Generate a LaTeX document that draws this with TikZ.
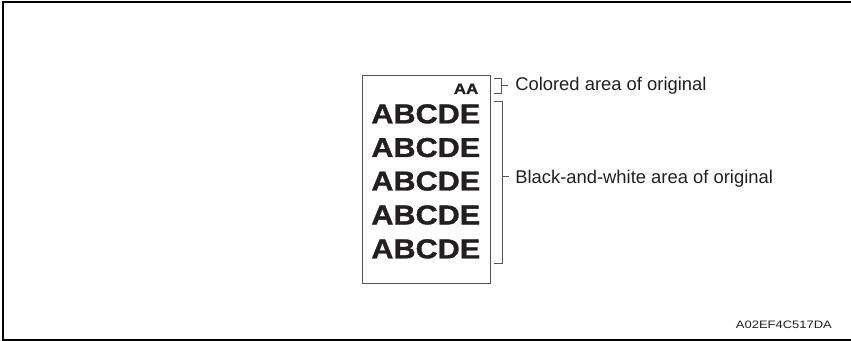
\documentclass[tikz,border=0pt]{standalone}
\usepackage{fontspec}
\setmainfont{Liberation Sans}
\newfontfamily\widebold[FakeStretch=1.12,FakeBold=1.2]{Liberation Sans Bold}
\newfontfamily\widereg[FakeStretch=1.2]{Liberation Sans}
\definecolor{ink}{HTML}{231F20}
\definecolor{rule}{HTML}{555555}
\begin{document}
\begin{tikzpicture}[x=0.75pt,y=-0.75pt,
  frame/.style={line width=1.4pt,black},
  thin/.style={line width=0.8pt,rule},
  bigtxt/.style={inner sep=0pt,anchor=base east,text=ink,font=\widebold\fontsize{20.5pt}{20.5pt}\selectfont},
  lab/.style={inner sep=0pt,anchor=base west,text=ink,font=\fontsize{13.8pt}{13.8pt}\selectfont}]
\useasboundingbox (0,0) rectangle (851,341);
% outer frame (open on the right)
\draw[frame] (850.5,2) -- (2.8,2) -- (2.8,339.6) -- (851,339.6);
% sheet of paper
\node[draw=rule,line width=0.8pt,minimum width=128.3*0.75pt,minimum height=208*0.75pt,inner sep=0pt,anchor=north west] (paper) at (361.7,75) {};
\node[inner sep=0pt,anchor=base east,text=ink,font=\widebold\fontsize{11.3pt}{11.3pt}\selectfont] (aa) at (478.5,94) {AA};
\node[bigtxt] (l1) at (480.5,123.3) {ABCDE};
\node[bigtxt] (l2) at (480.5,157) {ABCDE};
\node[bigtxt] (l3) at (480.5,190.5) {ABCDE};
\node[bigtxt] (l4) at (480.5,224.4) {ABCDE};
\node[bigtxt] (l5) at (480.5,258.3) {ABCDE};
% brackets
\coordinate (ct) at (494,78.5);
\coordinate (cb) at (494,93.5);
\coordinate (cm) at (501.5,85.5);
\coordinate (ce) at (508,85.5);
\coordinate (bt) at (493.5,101.7);
\coordinate (bb) at (493.5,263.3);
\coordinate (bm) at (502.7,176.7);
\coordinate (be) at (509.3,176.7);
\draw[thin] (ct) -- (cm |- ct) -- (cm |- cb) -- (cb);
\draw[thin] (cm) -- (ce);
\draw[thin] (bt) -- (bm |- bt) -- (bm |- bb) -- (bb);
\draw[thin] (bm) -- (be);
\node[lab] (clab) at (515,90.2) {Colored area of original};
\node[lab] (blab) at (515,183.4) {Black-and-white area of original};
\node[inner sep=0pt,anchor=base west,text=ink,font=\widereg\fontsize{8.1pt}{8.1pt}\selectfont] (code) at (735.7,328.3) {A02EF4C517DA};
\end{tikzpicture}
\end{document}
